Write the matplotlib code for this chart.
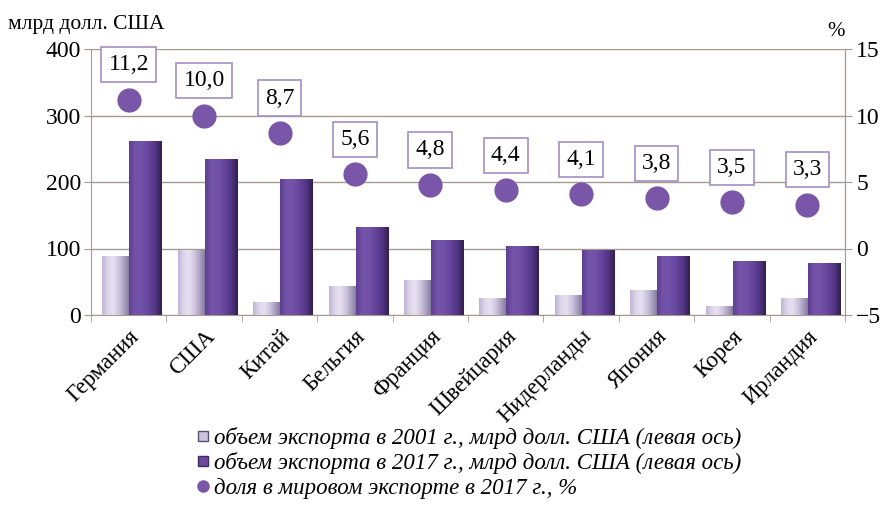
import matplotlib
matplotlib.use("Agg")
import matplotlib.pyplot as plt
import numpy as np
from matplotlib.lines import Line2D
from matplotlib.colors import LinearSegmentedColormap

plt.rcParams['font.family'] = ['Liberation Serif', 'DejaVu Serif']

countries = ["Германия", "США", "Китай", "Бельгия", "Франция", "Швейцария",
             "Нидерланды", "Япония", "Корея", "Ирландия"]
export_2001 = [88, 98, 20, 44, 52, 25, 30, 38, 13, 26]
export_2017 = [262, 235, 204, 132, 113, 104, 97, 88, 81, 78]
share_2017 = [11.2, 10.0, 8.7, 5.6, 4.8, 4.4, 4.1, 3.8, 3.5, 3.3]
share_labels = ["11,2", "10,0", "8,7", "5,6", "4,8", "4,4", "4,1", "3,8", "3,5", "3,3"]

legend_labels = [
    "объем экспорта в 2001 г., млрд долл. США (левая ось)",
    "объем экспорта в 2017 г., млрд долл. США (левая ось)",
    "доля в мировом экспорте в 2017 г., %",
]

c2001 = "#cbc2de"
c2017 = "#6b4a9e"
cdot = "#7a56a8"
cgrid = "#a8998f"

cmap2001 = LinearSegmentedColormap.from_list(
    "c2001", ["#bfb4d6", "#ddd6ea", "#e6e0f0", "#cfc6e0", "#a99fbf", "#7f7596"])
cmap2017 = LinearSegmentedColormap.from_list(
    "c2017", ["#5f3f92", "#7555aa", "#7252a8", "#65449b", "#523586", "#33204f"])

fig = plt.figure(figsize=(8.9, 5.12), dpi=100)
ax = fig.add_axes([91/890, 1-315/512, (845-91)/890, 266/512])
x = np.arange(len(countries))
grad = np.linspace(0, 1, 64).reshape(1, -1)

b1 = ax.bar(x - 0.165, export_2001, width=0.37, color=c2001, edgecolor="none", zorder=3)
b2 = ax.bar(x + 0.225, export_2017, width=0.43, color=c2017, edgecolor="none", zorder=3)
for bars, cm in ((b1, cmap2001), (b2, cmap2017)):
    for p in bars:
        x0, y0 = p.get_x(), p.get_y()
        im = ax.imshow(grad, cmap=cm, aspect="auto", zorder=3.5,
                       extent=(x0, x0 + p.get_width(), y0, y0 + p.get_height()))
        im.set_clip_path(p)

ax.set_xlim(-0.5, len(countries) - 0.5)
ax.set_ylim(0, 400)
ax.set_yticks([0, 100, 200, 300, 400])
ax.yaxis.grid(True, color=cgrid, linewidth=1.0, zorder=0)
ax.set_axisbelow(True)
ax.spines["top"].set_visible(False)
for s in ["left", "right", "bottom"]:
    ax.spines[s].set_color(cgrid)
ax.tick_params(axis="y", colors=cgrid, labelcolor="black", labelsize=17, length=5, pad=2)
ax.set_xticks(x)
ax.set_xticklabels(countries, rotation=45, ha="right", rotation_mode="anchor", fontsize=16.5)
ax.tick_params(axis="x", length=0, pad=8)
ax.set_xticks(np.arange(-0.5, len(countries)), minor=True)
ax.tick_params(axis="x", which="minor", length=5, colors=cgrid)

ax2 = ax.twinx()
ax2.set_ylim(-5, 15)
ax2.set_yticks([-5, 0, 5, 10, 15])
ax2.tick_params(axis="y", colors=cgrid, labelcolor="black", labelsize=17, length=5, pad=3)
for s in ["top", "left", "bottom"]:
    ax2.spines[s].set_visible(False)
ax2.spines["right"].set_color(cgrid)
ax2.scatter(x, share_2017, s=270, color=cdot, zorder=5)
for xi, yi, lab in zip(x, share_2017, share_labels):
    ax2.annotate(lab, (xi, yi), xytext=(0, 25), textcoords="offset points",
                 ha="center", va="center", fontsize=17,
                 bbox=dict(boxstyle="square,pad=0.3", fc="white", ec="#a48fc4", lw=1.2))

fig.text(8/890, 1-25/512, "млрд долл. США", fontsize=15.5, va="center", ha="left")
fig.text(836/890, 1-32/512, "%", fontsize=15, va="center", ha="center")

handles = [
    Line2D([], [], marker="s", linestyle="", markersize=7, markerfacecolor=c2001, markeredgecolor="#5c4f75"),
    Line2D([], [], marker="s", linestyle="", markersize=7, markerfacecolor=c2017, markeredgecolor="#3e2a60"),
    Line2D([], [], marker="o", linestyle="", markersize=8, markerfacecolor=cdot, markeredgecolor=cdot),
]
fig.legend(handles, legend_labels, loc="center", bbox_to_anchor=(468/890, 1-463/512),
           frameon=False, prop={"style": "italic", "size": 16.5}, handletextpad=0.1,
           labelspacing=0.15, handlelength=0.7, borderpad=0)

fig.savefig("out.png", dpi=100)
